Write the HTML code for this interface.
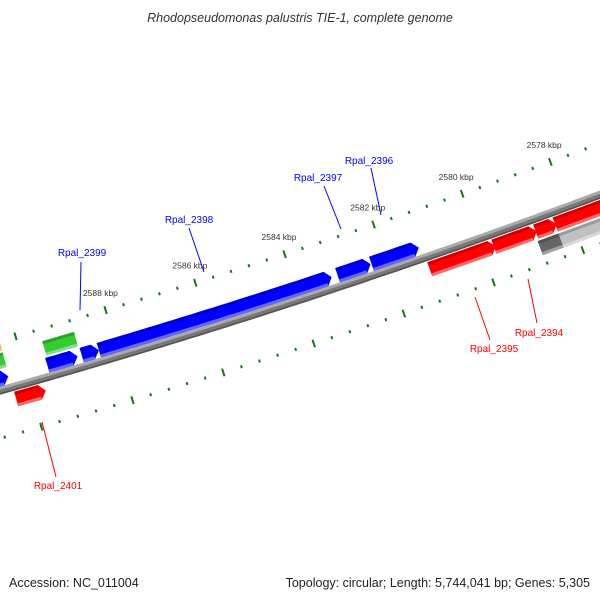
<!DOCTYPE html>
<html><head><meta charset="utf-8"><style>
body{margin:0;background:#fff;}
svg{display:block;font-family:"Liberation Sans",sans-serif;}
</style></head><body>
<svg id="map" width="600" height="600" viewBox="0 0 600 600" xmlns="http://www.w3.org/2000/svg">
<text x="300" y="22" text-anchor="middle" font-size="12.5" font-style="italic" fill="#333">Rhodopseudomonas palustris TIE-1, complete genome</text>
<text x="9" y="587" font-size="12.5" fill="#222">Accession: NC_011004</text>
<text x="590" y="587" text-anchor="end" font-size="12.5" fill="#222">Topology: circular; Length: 5,744,041 bp; Genes: 5,305</text>
<g id="g"></g>
</svg>
<script>
// gene data (kbp)
const geneStart = [2591.3, 2589.52, 2588.76, 2588.38, 2583.07, 2582.31, 2590.35, 2581.18, 2579.74, 2578.80, 2578.36, 2578.83, 2578.36, 2589.48, 2591.0, 2591.0];
const geneEnd   = [2590.38, 2588.85, 2588.38, 2583.20, 2582.33, 2581.25, 2589.70, 2579.70, 2578.78, 2578.33, 2576.6, 2578.36, 2576.6, 2588.78, 2590.36, 2590.36];
const geneStrand= [1,1,1,1,1,1,-1,-1,-1,-1,-1,-1,-1,1,1,1];
const geneRow   = [1,1,1,1,1,1,1,1,1,1,1,2,2,2,3,2];
const geneColor = ['#0000ff','#0000ff','#0000ff','#0000ff','#0000ff','#0000ff','#ff0000','#ff0000','#ff0000','#ff0000','#ff0000','#666666','#c0c0c0','#33cc33','#ff9900','#33cc33'];
const geneArrow = [1,1,1,1,1,1,1,1,1,1,1,0,0,0,0,0];
const tickLabels = [2578,2580,2582,2584,2586,2588];
const labelNames = ['Rpal_2399','Rpal_2398','Rpal_2397','Rpal_2396','Rpal_2395','Rpal_2394','Rpal_2401'];
const labelColors= ['#0000ff','#0000ff','#0000ff','#0000ff','#ff0000','#ff0000','#ff0000'];
const labelXY = [[82,256],[189,223],[318,181],[369,164],[494,352],[539,336],[58,489]];
const labelLine = [[81,262,80,310],[189,228,204,272],[324,186,341,229],[371,168,381,215],[490,340,475,297],[537,323,528,279],[56,477,42,422]];

const CX=-2023, CY=-6821;
function P(k,r){const a=(73.38-(2588-k)*0.361)*Math.PI/180;return [CX+r*Math.cos(a),CY+r*Math.sin(a)];}
const NS='http://www.w3.org/2000/svg';
const g=document.getElementById('g');
function mk(t,attrs){const e=document.createElementNS(NS,t);for(const k in attrs)e.setAttribute(k,attrs[k]);g.appendChild(e);return e;}
function arcPts(k1,k2,r){const n=Math.max(2,Math.ceil(Math.abs(k2-k1)/0.1));const out=[];for(let i=0;i<=n;i++)out.push(P(k1+(k2-k1)*i/n,r));return out;}
function poly(pts){return pts.map(p=>p[0].toFixed(1)+','+p[1].toFixed(1)).join(' ');}

// backbone
const bb=[[7486,7489,'#aaaaaa'],[7489,7492,'#777777'],[7492,7494,'#555555']];
bb.forEach((b,i)=>{const p=arcPts(2593,2575,b[0]).concat(arcPts(2575,2593,b[1]));
const e=mk('polygon',{points:poly(p),fill:b[2]});

});

// ticks
for(let i=0;i<=45;i++){
  const k=2592-i*0.4; const major=(i%5===0);
  [7442,7536].forEach(rc=>{
    const h=major?4:1.5;const a=P(k,rc-h),b=P(k,rc+h);
    const e=mk('line',{x1:a[0],y1:a[1],x2:b[0],y2:b[1],stroke:'#117711','stroke-width':2});
    
    
  });
}
tickLabels.forEach(k=>{const p=P(k,7424);
  const e=mk('text',{x:p[0],y:p[1]+3,'text-anchor':'middle','font-size':'8.5',fill:'#333'});
  e.textContent=k+' kbp';
  
  });

// genes
const rowR={'1':[7471,7486],'2':[7454,7469],'3':[7437,7452]};
const revR={'1':[7495,7510],'2':[7512,7527]};
function shade(c,f){const n=parseInt(c.slice(1),16);let r=n>>16,gg=(n>>8)&255,b=n&255;
 const m=v=>Math.max(0,Math.min(255,Math.round(f>0?v+(255-v)*f:v*(1+f))));
 return 'rgb('+m(r)+','+m(gg)+','+m(b)+')';}
for(let i=0;i<geneStart.length;i++){
  const rr=geneStrand[i]>0?rowR[geneRow[i]]:revR[geneRow[i]];
  const r0=rr[0],r1=rr[1];
  const s=geneStart[i],e=geneEnd[i];const dir=Math.sign(e-s);
  const head=geneArrow[i]?Math.min(0.13,Math.abs(e-s)*0.5)*dir:0;
  function shape(a,b){let pts=arcPts(s,e-head,a);
    if(geneArrow[i])pts.push(P(e,(a+b)/2));
    pts=pts.concat(arcPts(e-head,s,b));return pts;}
  const m=mk('polygon',{points:poly(shape(r0,r1)),fill:geneColor[i]});
  
  
  const top=mk('polygon',{points:poly(arcPts(s,e-head,r0).concat(arcPts(e-head,s,r0+3))),fill:shade(geneColor[i],-0.2)});
  
  
  const bot=mk('polygon',{points:poly(arcPts(s,e-head,r1-3).concat(arcPts(e-head,s,r1))),fill:shade(geneColor[i],0.4)});
  
  
}

// labels
labelNames.forEach((n,i)=>{
  const L=labelLine[i];
  const l=mk('line',{x1:L[0],y1:L[1],x2:L[2],y2:L[3],stroke:labelColors[i],'stroke-width':1});
  
  
  const t=mk('text',{x:labelXY[i][0],y:labelXY[i][1],'text-anchor':'middle','font-size':'10',fill:labelColors[i]});
  t.textContent=n;
  
  
});
</script>
</body></html>
